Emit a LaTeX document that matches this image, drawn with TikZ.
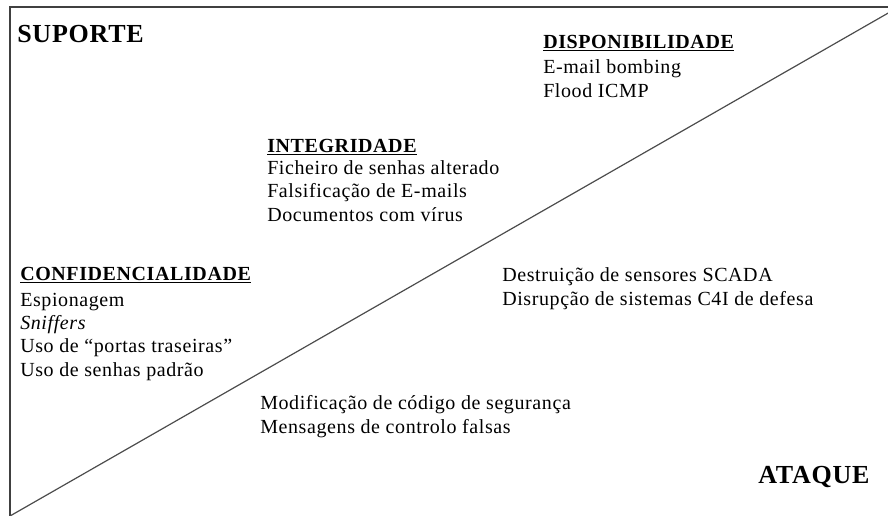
\documentclass[tikz,border=0pt]{standalone}
\usepackage{fontspec}
\setmainfont{Liberation Serif}[LetterSpace=3]
\usetikzlibrary{positioning}

\tikzset{
  titulo/.style={anchor=base west,inner sep=0pt,font=\fontsize{19.5}{22}\selectfont\bfseries},
  cabeca/.style={anchor=base west,inner sep=0pt,font=\fontsize{15}{17.5}\selectfont\bfseries},
  lista/.style={anchor=base west,inner sep=0pt,align=left,font=\fontsize{15}{17.5}\selectfont},
}

\begin{document}
\begin{tikzpicture}[x=0.75pt,y=-0.75pt]
    \useasboundingbox (0,0) rectangle (888,515);
    % moldura e diagonal
    \draw[line width=1.6pt,black!75] (10,520) |- (892,7);
    \coordinate (ini) at (10,516);
    \coordinate (fim) at (890,12);
    \draw[line width=0.9pt,black!70] (ini) -- (fim);

    % cantos
    \node[titulo] (suporte) at (17,42) {SUPORTE};
    \node[titulo] (ataque) at (758,483) {ATAQUE};

    % disponibilidade (listas: base na ultima linha)
    \node[cabeca] (disp) at (543,48) {\underline{DISPONIBILIDADE}};
    \node[lista] (displ) at (543,97) {E-mail bombing\\Flood ICMP};

    % integridade
    \node[cabeca] (integ) at (267,152) {\underline{INTEGRIDADE}};
    \node[lista] (integl) at (267,221) {Ficheiro de senhas alterado\\Falsificação de E-mails\\Documentos com vírus};

    % confidencialidade
    \node[cabeca] (conf) at (20,280) {\underline{CONFIDENCIALIDADE}};
    \node[lista] (confl) at (20,376) {Espionagem\\\textit{Sniffers}\\Uso de “portas traseiras”\\Uso de senhas padrão};

    % lado do ataque
    \node[lista] (scada) at (502,305) {Destruição de sensores SCADA\\Disrupção de sistemas C4I de defesa};
    \node[lista] (codigo) at (260,433) {Modificação de código de segurança\\Mensagens de controlo falsas};
\end{tikzpicture}
\end{document}
